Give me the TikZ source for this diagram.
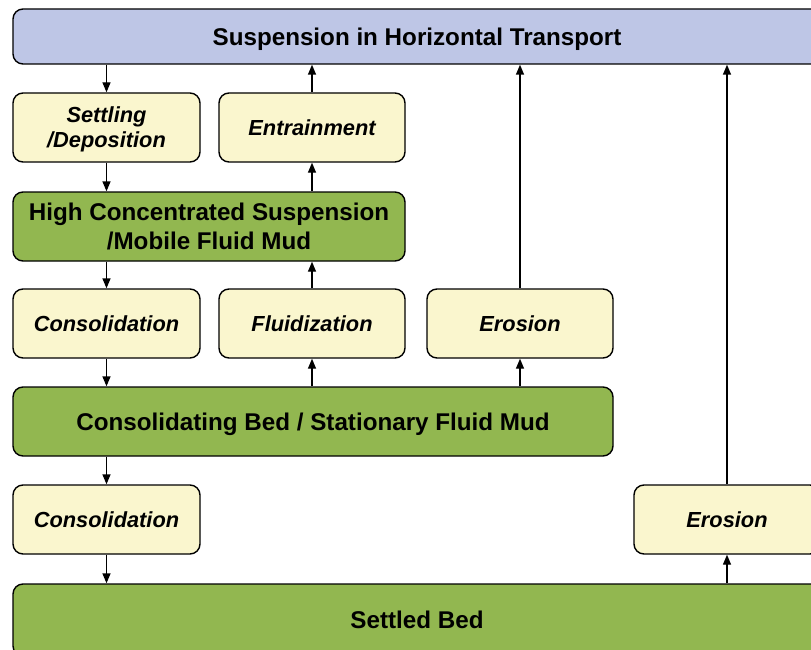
\documentclass[tikz,border=0pt]{standalone}
\usepackage{fontspec}
\setmainfont{Liberation Sans}
\usetikzlibrary{arrows.meta}
\definecolor{suspblue}{RGB}{190,198,230}
\definecolor{procyellow}{RGB}{250,246,206}
\definecolor{bedgreen}{RGB}{146,183,80}
\begin{document}
\begin{tikzpicture}[x=1pt,y=-1pt,
  box/.style={draw=black,line width=1.4pt,rounded corners=10pt,inner sep=0pt,align=center,text depth=0pt},
  statebox/.style={box,font=\fontsize{24.2}{29}\selectfont\bfseries},
  procbox/.style={box,fill=procyellow,font=\fontsize{21.8}{25}\selectfont\bfseries\itshape},
  flow/.style={line width=1.4pt,-{Triangle[length=10pt,width=8pt]}}]
\useasboundingbox (0,0) rectangle (811,650);
\clip (0,0) rectangle (811,650);
% states
\node[statebox,fill=suspblue,minimum width=808pt,minimum height=55pt] (susp) at (417,36.5) {Suspension in Horizontal Transport};
\node[statebox,fill=bedgreen,minimum width=392pt,minimum height=69pt] (hcs) at (209,226.5) {High Concentrated Suspension\\/Mobile Fluid Mud};
\node[statebox,fill=bedgreen,minimum width=600pt,minimum height=69pt] (cbed) at (313,421.5) {Consolidating Bed / Stationary Fluid Mud};
\node[statebox,fill=bedgreen,minimum width=808pt,minimum height=72pt] (sbed) at (417,620) {Settled Bed};
% processes
\node[procbox,minimum width=187pt,minimum height=69pt] (settle) at (106.5,127.5) {Settling\\/Deposition};
\node[procbox,minimum width=186pt,minimum height=69pt] (entr) at (312,127.5) {Entrainment};
\node[procbox,minimum width=187pt,minimum height=69pt] (cons1) at (106.5,323.5) {Consolidation};
\node[procbox,minimum width=186pt,minimum height=69pt] (fluid) at (312,323.5) {Fluidization};
\node[procbox,minimum width=186pt,minimum height=69pt] (eros1) at (520,323.5) {Erosion};
\node[procbox,minimum width=187pt,minimum height=69pt] (cons2) at (106.5,519.5) {Consolidation};
\node[procbox,minimum width=186pt,minimum height=69pt] (eros2) at (727,519.5) {Erosion};
% connectors
\draw[flow] (susp.south -| settle.north) -- (settle.north);
\draw[flow] (settle.south) -- (settle.south |- hcs.north);
\draw[flow] (entr.north) -- (entr.north |- susp.south);
\draw[flow] (entr.south |- hcs.north) -- (entr.south);
\draw[flow] (hcs.south -| cons1.north) -- (cons1.north);
\draw[flow] (fluid.north) -- (fluid.north |- hcs.south);
\draw[flow] (cons1.south) -- (cons1.south |- cbed.north);
\draw[flow] (cbed.north -| fluid.south) -- (fluid.south);
\draw[flow] (cbed.north -| eros1.south) -- (eros1.south);
\draw[flow] (eros1.north) -- (eros1.north |- susp.south);
\draw[flow] (cbed.south -| cons2.north) -- (cons2.north);
\draw[flow] (cons2.south) -- (cons2.south |- sbed.north);
\draw[flow] (sbed.north -| eros2.south) -- (eros2.south);
\draw[flow] (eros2.north) -- (eros2.north |- susp.south);
\end{tikzpicture}
\end{document}
